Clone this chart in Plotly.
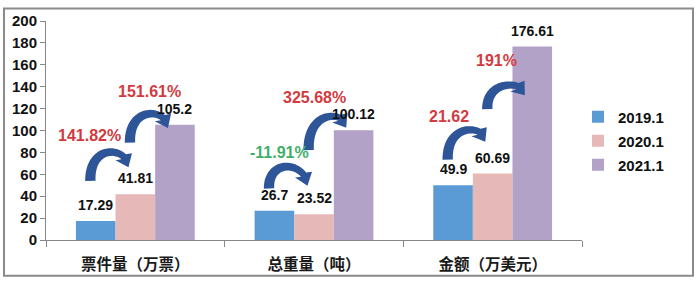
import math
import plotly.graph_objects as go

# ---------------- data ----------------
categories = ["票件量（万票）", "总重量（吨）", "金额（万美元）"]
series_names = ["2019.1", "2020.1", "2021.1"]
values_2019 = [17.29, 26.7, 49.9]
values_2020 = [41.81, 23.52, 60.69]
values_2021 = [105.2, 100.12, 176.61]
series_values = [values_2019, values_2020, values_2021]
series_colors = ["#5b9bd5", "#e6b8b7", "#b3a2c7"]

growth_texts = ["141.82%", "151.61%", "-11.91%", "325.68%", "21.62", "191%"]
growth_colors = ["#d23a3f", "#d23a3f", "#3fae6a", "#d23a3f", "#d23a3f", "#d23a3f"]
# label anchor (x in category units, y in value units)
growth_x = [-0.254, 0.081, 0.807, 1.003, 1.757, 2.02]
growth_y = [95.6, 136.0, 79.6, 130.0, 113.0, 163.7]

# arrows: (category, from series, to series, tail level, peak level, tip level)
arrows = [
    (0, 0, 1, 54, 80, 67),
    (0, 1, 2, 89, 115, 103),
    (1, 0, 1, 47, 67, 50),
    (1, 1, 2, 82, 112, 104),
    (2, 0, 1, 73.5, 100, 91),
    (2, 1, 2, 119.5, 141, 134),
]

# ---------------- geometry helpers ----------------
W, H = 700, 286
ML, MR, MT, MB = 46, 118, 17, 43
PW, PH = W - ML - MR, H - MT - MB
XMIN, XMAX = -0.5, 2.5
YMIN, YMAX = 0, 200
BARGAP = 0.335
BW = (1 - BARGAP) / 3


def to_px(x, y):
    return (ML + (x - XMIN) / (XMAX - XMIN) * PW, MT + PH - (y - YMIN) / (YMAX - YMIN) * PH)


def to_data(px, py):
    return (XMIN + (px - ML) / PW * (XMAX - XMIN), YMIN + (MT + PH - py) / PH * (YMAX - YMIN))


def bar_center(cat, ser):
    return cat + (ser - 1) * BW


def arrow_path(cat, s0, s1, ytail, ypeak, ytip):
    x0 = bar_center(cat, s0) - 0.03
    x3 = bar_center(cat, s1) - 0.03
    P0 = to_px(x0, ytail)
    P3 = to_px(x3, ytip)
    peak = to_px(0, ypeak)[1]
    yc = (peak - (P0[1] + P3[1]) / 8) / 0.75
    C1 = (P0[0] - 1, yc)
    C2 = (P3[0] - 0.15 * (P3[0] - P0[0]), yc)

    def bez(t):
        u = 1 - t
        return (u**3 * P0[0] + 3 * u * u * t * C1[0] + 3 * u * t * t * C2[0] + t**3 * P3[0],
                u**3 * P0[1] + 3 * u * u * t * C1[1] + 3 * u * t * t * C2[1] + t**3 * P3[1])

    def dbez(t):
        u = 1 - t
        return (3 * u * u * (C1[0] - P0[0]) + 6 * u * t * (C2[0] - C1[0]) + 3 * t * t * (P3[0] - C2[0]),
                3 * u * u * (C1[1] - P0[1]) + 6 * u * t * (C2[1] - C1[1]) + 3 * t * t * (P3[1] - C2[1]))

    head_len = 12
    t_end = 1.0
    for k in range(400):
        t = 1 - k / 400
        p = bez(t)
        if math.hypot(p[0] - P3[0], p[1] - P3[1]) >= head_len:
            t_end = t
            break
    n = 30
    left, right = [], []
    for i in range(n + 1):
        t = t_end * i / n
        p = bez(t)
        d = dbez(t)
        L = math.hypot(*d) or 1
        nx, ny = -d[1] / L, d[0] / L
        hw = 5.2 - 1.8 * (t / t_end)
        left.append((p[0] + nx * hw, p[1] + ny * hw))
        right.append((p[0] - nx * hw, p[1] - ny * hw))
    B = bez(t_end)
    cx, cy = P3[0] - B[0], P3[1] - B[1]
    cl = math.hypot(cx, cy) or 1
    ex, ey = P3[0] - C2[0], P3[1] - C2[1]
    el = math.hypot(ex, ey) or 1
    dx, dy = cx / cl + ex / el, cy / cl + ey / el
    L = math.hypot(dx, dy) or 1
    dx, dy = dx / L, dy / L
    tip = (B[0] + dx * head_len, B[1] + dy * head_len)
    nx, ny = -dy, dx
    hh = 9.0
    pts = left + [(B[0] + nx * hh, B[1] + ny * hh), tip, (B[0] - nx * hh, B[1] - ny * hh)] + right[::-1]
    dpts = [to_data(*p) for p in pts]
    return "M " + " L ".join(f"{x:.5f},{y:.4f}" for x, y in dpts) + " Z"


# ---------------- figure ----------------
NUM_FONT = "Liberation Sans, Arial, sans-serif"
fig = go.Figure()
for name, vals, col in zip(series_names, series_values, series_colors):
    fig.add_trace(go.Bar(
        x=list(range(len(categories))), y=vals, name=f"<b>{name}</b>",
        marker=dict(color=col, line=dict(width=0)),
        legendgroup=name, hoverinfo="skip",
    ))

annotations = []
for s, vals in enumerate(series_values):
    for c, v in enumerate(vals):
        annotations.append(dict(
            x=bar_center(c, s), y=v, xref="x", yref="y", text=f"<b>{v:g}</b>",
            showarrow=False, yanchor="bottom", yshift=6,
            font=dict(family=NUM_FONT, size=14, color="#111111"),
        ))
for t, col, gx, gy in zip(growth_texts, growth_colors, growth_x, growth_y):
    annotations.append(dict(
        x=gx, y=gy, xref="x", yref="y", text=f"<b>{t}</b>", showarrow=False,
        font=dict(family=NUM_FONT, size=16, color=col),
    ))

shapes = []
for a in arrows:
    shapes.append(dict(type="path", xref="x", yref="y", path=arrow_path(*a),
                       fillcolor="#2e5597", line=dict(width=0), layer="above"))
# chart frame
shapes.append(dict(type="rect", xref="paper", yref="paper",
                   x0=(4 - ML) / PW, x1=(693 - ML) / PW,
                   y0=(MT + PH - 280) / PH, y1=(MT + PH - 4) / PH,
                   line=dict(color="#8a8a8a", width=2), fillcolor="rgba(0,0,0,0)", layer="below"))

fig.update_layout(
    width=W, height=H,
    margin=dict(l=ML, r=MR, t=MT, b=MB, pad=0),
    paper_bgcolor="white", plot_bgcolor="white",
    barmode="group", bargap=BARGAP, bargroupgap=0,
    showlegend=True,
    legend=dict(x=(578 - ML) / PW, y=(MT + PH - 99) / PH, xanchor="left", yanchor="top",
                font=dict(family=NUM_FONT, size=15, color="#111111"),
                bgcolor="rgba(0,0,0,0)", tracegroupgap=1.5, itemclick=False),
    annotations=annotations, shapes=shapes,
    xaxis=dict(range=[XMIN, XMAX], tickvals=list(range(len(categories))), ticktext=categories,
               showline=True, linecolor="#888888", linewidth=1, ticks="", showgrid=False,
               zeroline=False, ticklabelstandoff=10,
               tickfont=dict(family="Noto Sans CJK SC, sans-serif", size=15.5, color="#1a1a1a",
                             weight="bold"),
               minor=dict(tickvals=[-0.5, 0.5, 1.5, 2.5], ticks="outside", ticklen=6,
                          tickcolor="#888888", showgrid=False)),
    yaxis=dict(range=[YMIN, YMAX], dtick=20, showline=True, linecolor="#888888", linewidth=1,
               ticks="outside", ticklen=5, tickcolor="#888888", showgrid=False, zeroline=False,
               tickfont=dict(family=NUM_FONT, size=15, color="#111111"),
               tickprefix="<b>", ticksuffix="</b>"),
)

fig.write_html("out.html")
